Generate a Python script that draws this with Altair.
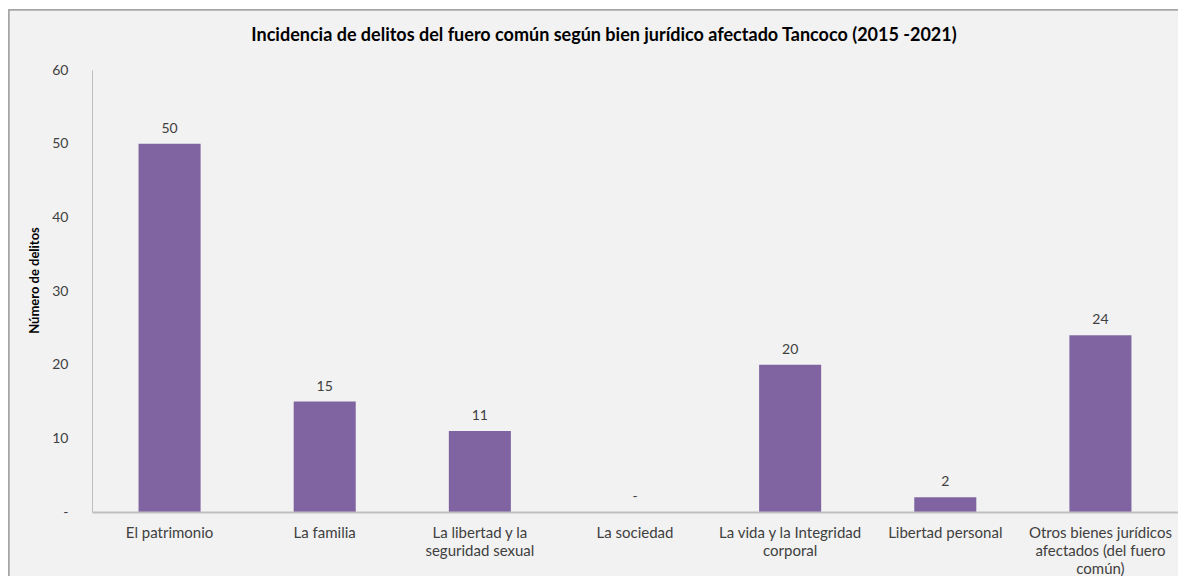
import altair as alt
import pandas as pd

categories = [
    "El patrimonio",
    "La familia",
    "La libertad y la|seguridad sexual",
    "La sociedad",
    "La vida y la Integridad|corporal",
    "Libertad personal",
    "Otros bienes jurídicos|afectados (del fuero|común)",
]
values = [50, 15, 11, 0, 20, 2, 24]
y_ticks = [0, 10, 20, 30, 40, 50, 60]

df = pd.DataFrame({"cat": categories, "val": values})

FONT = "Lato"
TXT = "#404040"
W, H = 1086, 442

frame = alt.Chart(df).mark_rect(
    fill="#F2F2F2", stroke="#A6A6A6", strokeWidth=1.5
).encode(
    x=alt.value(-83), x2=alt.value(W + 40), y=alt.value(-60), y2=alt.value(H + 80)
)

base = alt.Chart(df).encode(
    x=alt.X(
        "cat:N",
        sort=categories,
        scale=alt.Scale(paddingInner=0.6, paddingOuter=0.3),
        axis=alt.Axis(
            title=None,
            labelAngle=0,
            labelExpr="split(datum.label, '|')",
            labelFont=FONT,
            labelFontSize=15,
            labelColor=TXT,
            labelPadding=13,
            labelLineHeight=18,
            labelBaseline="top",
            ticks=False,
            domainColor="#BFBFBF",
            domainWidth=2,
            labelLimit=300,
            zindex=1,
        ),
    ),
    y=alt.Y(
        "val:Q",
        scale=alt.Scale(domain=[0, 60], nice=False),
        axis=alt.Axis(
            values=y_ticks,
            title="Número de delitos",
            titleFont=FONT,
            titleFontSize=13,
            titleFontWeight="bold",
            titleColor="#000000",
            titlePadding=10,
            titleY=210,
            labelExpr="datum.value == 0 ? '-' : datum.label",
            labelFont=FONT,
            labelFontSize=14,
            labelColor=TXT,
            labelPadding=24,
            ticks=False,
            grid=False,
            domainColor="#BFBFBF",
            domainWidth=1,
            zindex=1,
        ),
    ),
)

bars = base.mark_bar(color="#8064A2")

labels = base.mark_text(
    baseline="bottom", dy=-8, font=FONT, fontSize=14, color=TXT
).encode(text=alt.Text("lbl:N")).transform_calculate(
    lbl="datum.val == 0 ? '-' : format(datum.val, 'd')"
)

chart = (
    alt.layer(frame, bars, labels)
    .properties(
        width=W,
        height=H,
        autosize=alt.AutoSizeParams(type="none"),
        padding={"left": 84, "top": 62, "right": 0, "bottom": 64},
        title=alt.TitleParams(
            "Incidencia de delitos del fuero común según bien jurídico afectado Tancoco (2015 -2021)",
            font=FONT,
            fontSize=18,
            fontWeight="bold",
            color="#000000",
            anchor="middle",
            dx=-31,
            offset=-36,
        ),
        background="#FFFFFF",
    )
    .configure_view(stroke=None)
)

chart.save("out.html", embed_options={"renderer": "svg", "actions": False})
